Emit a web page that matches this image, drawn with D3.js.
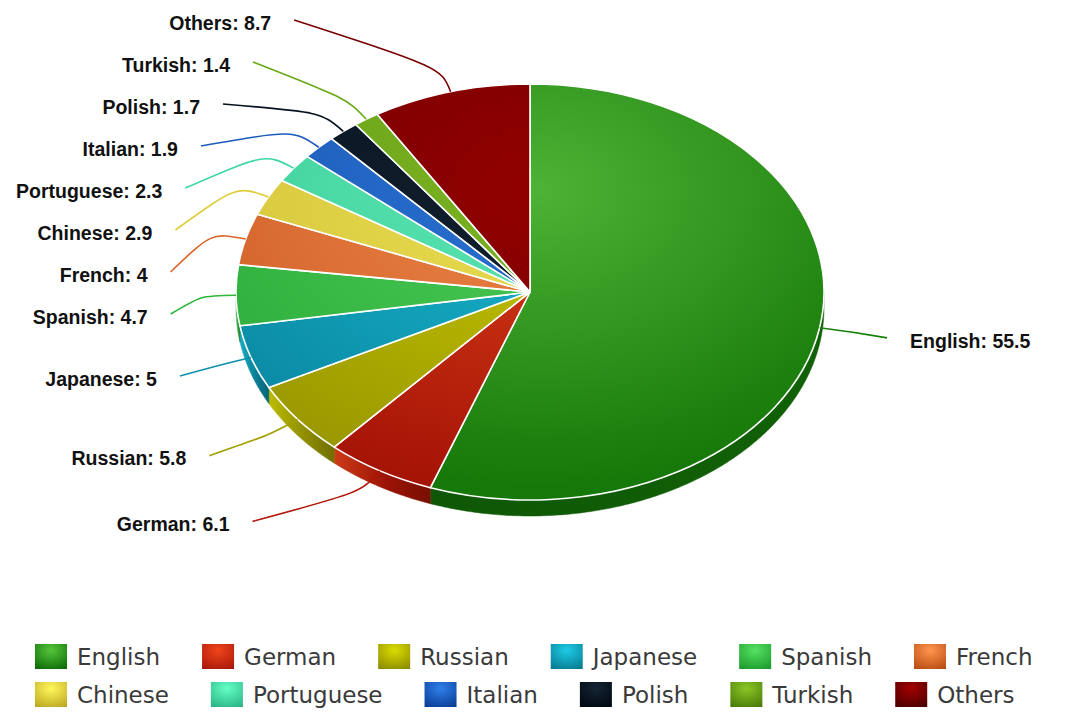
<!DOCTYPE html>
<html>
<head>
<meta charset="utf-8">
<script src="https://cdn.jsdelivr.net/npm/d3@7"></script>
<style>
  html, body { margin: 0; padding: 0; background: #fff; }
  svg { display: block; }
</style>
</head>
<body>
<svg id="chart" width="1070" height="713"></svg>
<script>
// ---------------- data ----------------
const categories = ["English", "German", "Russian", "Japanese", "Spanish", "French",
                    "Chinese", "Portuguese", "Italian", "Polish", "Turkish", "Others"];
const values = [55.5, 6.1, 5.8, 5, 4.7, 4, 2.9, 2.3, 1.9, 1.7, 1.4, 8.7];

// series colours (light = highlight, dark = shade)
const colorsLight = ["#4db235", "#d83e18", "#c6c600", "#1ab6ce", "#4ccb58", "#ec8646",
                     "#eade52", "#5ae6b2", "#2a72d2", "#12202e", "#7cb222", "#920000"];
const colorsDark  = ["#157808", "#a61406", "#9a9800", "#0a88a2", "#2cac3a", "#cf5e28",
                     "#d2c238", "#3ccc98", "#1a56b2", "#06121e", "#64a016", "#720000"];
const legendDark  = ["#0c6a06", "#a81808", "#8a8a00", "#087a90", "#1c9a2c", "#b84c12",
                     "#bca820", "#2ab484", "#0a3c94", "#000810", "#4a7a08", "#4a0000"];

// ---------------- layout ----------------
const W = 1070, H = 713;
const cx = 530, cy = 292, Rx = 294, Ry = 208, depth = 16;
const k = Ry / Rx;

const svg = d3.select("#chart");
const defs = svg.append("defs");

const data = categories.map((c, i) => ({ name: c, value: values[i], i }));
const pie = d3.pie().sort(null).value(d => d.value);
const arcs = pie(data);

const pt = (a, s) => [cx + Rx * s * Math.sin(a), cy - Ry * s * Math.cos(a)];

// gradients for tops (in scaled group space)
const hx = 10, hy = (190 - cy) / k;
arcs.forEach(d => {
  const g = defs.append("radialGradient")
    .attr("id", "top" + d.index)
    .attr("gradientUnits", "userSpaceOnUse")
    .attr("cx", hx).attr("cy", hy).attr("fx", hx).attr("fy", hy)
    .attr("r", 420);
  g.append("stop").attr("offset", 0).attr("stop-color", colorsLight[d.index]);
  g.append("stop").attr("offset", 1).attr("stop-color", colorsDark[d.index]);
});

// ---------------- side walls ----------------
const sideG = svg.append("g");
arcs.forEach(d => {
  const lo = Math.max(d.startAngle, Math.PI / 2);
  const hi = Math.min(d.endAngle, 3 * Math.PI / 2);
  if (hi <= lo) return;
  const n = Math.max(2, Math.ceil((hi - lo) / 0.01));
  const top = d3.range(n + 1).map(j => pt(lo + (hi - lo) * j / n, 1));
  const bottom = top.map(p => [p[0], p[1] + depth]).reverse();
  const pts = top.concat(bottom);
  const xl = pt(hi, 1)[0], xr = pt(lo, 1)[0];
  const base = d3.color(colorsDark[d.index]);
  const gid = "side" + d.index;
  const g = defs.append("linearGradient").attr("id", gid)
    .attr("gradientUnits", "userSpaceOnUse")
    .attr("x1", xl).attr("y1", 0).attr("x2", xr).attr("y2", 0);
  if (d.index === 0) {
    g.append("stop").attr("offset", 0).attr("stop-color", base.darker(0.9));
    g.append("stop").attr("offset", 1).attr("stop-color", base.darker(0.6));
  } else {
    g.append("stop").attr("offset", 0).attr("stop-color", d3.color(colorsLight[d.index]).darker(0.15));
    g.append("stop").attr("offset", 0.55).attr("stop-color", base.darker(0.2));
    g.append("stop").attr("offset", 1).attr("stop-color", base.darker(0.9));
  }
  sideG.append("path")
    .attr("d", "M" + pts.map(p => p.join(",")).join("L") + "Z")
    .attr("fill", `url(#${gid})`)
    .attr("stroke", `url(#${gid})`)
    .attr("stroke-width", 0.5);
});

// ---------------- tops ----------------
const arcGen = d3.arc().innerRadius(0).outerRadius(Rx);
const topG = svg.append("g").attr("transform", `translate(${cx},${cy}) scale(1,${k})`);
topG.selectAll("path").data(arcs).join("path")
  .attr("d", arcGen)
  .attr("fill", d => `url(#top${d.index})`)
  .attr("stroke", "#fff")
  .attr("stroke-width", 1.6)
  .attr("stroke-linejoin", "round")
  .attr("vector-effect", "non-scaling-stroke");

// ---------------- labels ----------------
const labelR = 360, labelRy = 267, rowGap = 42, minY = 20, maxY = 600;
const labels = arcs.map(d => {
  const mid = (d.startAngle + d.endAngle) / 2;
  return { d, mid, side: mid < Math.PI ? "right" : "left", y0: cy - labelRy * Math.cos(mid) };
});

function clusterTop(c) {
  const m = d3.mean(c.members, e => e.y0);
  let t = m - (c.members.length - 1) * rowGap / 2;
  t = Math.max(minY, t);
  t = Math.min(maxY - (c.members.length - 1) * rowGap, t);
  return t;
}
function spread(items) {
  items.sort((a, b) => a.y0 - b.y0);
  const clusters = [];
  items.forEach(it => {
    clusters.push({ members: [it] });
    while (clusters.length > 1) {
      const c2 = clusters[clusters.length - 1], c1 = clusters[clusters.length - 2];
      if (clusterTop(c1) + c1.members.length * rowGap > clusterTop(c2)) {
        clusters.splice(clusters.length - 2, 2, { members: c1.members.concat(c2.members) });
      } else break;
    }
  });
  clusters.forEach(c => {
    const t = clusterTop(c);
    c.members.forEach((e, j) => e.y = t + j * rowGap);
  });
}
spread(labels.filter(l => l.side === "left"));
spread(labels.filter(l => l.side === "right"));

const labG = svg.append("g");
labels.forEach(l => {
  const dy = l.y - cy;
  const dx = Math.sqrt(Math.max(0, labelR * labelR - dy * dy));
  const lx = l.side === "right" ? cx + dx : cx - dx;
  const A = pt(l.mid, 1.0), B = pt(l.mid, 1.12);
  labG.append("path")
    .attr("d", `M${lx},${l.y}C${B[0]},${B[1]} ${B[0]},${B[1]} ${A[0]},${A[1]}`)
    .attr("fill", "none")
    .attr("stroke", d3.color(colorsDark[l.d.index]).brighter(0.15))
    .attr("stroke-width", 1.6);
  labG.append("text")
    .attr("x", l.side === "right" ? lx + 23 : lx - 23)
    .attr("y", l.y)
    .attr("dy", "0.5em")
    .attr("text-anchor", l.side === "right" ? "start" : "end")
    .attr("font-family", "'Liberation Sans', Arial, sans-serif")
    .attr("font-weight", "bold")
    .attr("font-size", 19.5)
    .attr("fill", "#111")
    .text(`${l.d.data.name}: ${l.d.data.value}`);
});

// ---------------- legend ----------------
const perRow = 6, legX = 35, legY = [644, 682], swW = 32, swH = 25, itemGap = 42;
const legG = svg.append("g");
categories.forEach((c, i) => {
  const g = defs.append("radialGradient").attr("id", "leg" + i)
    .attr("cx", "50%").attr("cy", "25%").attr("r", "85%");
  g.append("stop").attr("offset", 0).attr("stop-color", d3.color(colorsLight[i]).brighter(0.3));
  g.append("stop").attr("offset", 1).attr("stop-color", legendDark[i]);
});
let curX = legX;
categories.forEach((c, i) => {
  const row = Math.floor(i / perRow);
  if (i % perRow === 0) curX = legX;
  const y = legY[row];
  legG.append("rect")
    .attr("x", curX).attr("y", y).attr("width", swW).attr("height", swH)
    .attr("fill", `url(#leg${i})`);
  const t = legG.append("text")
    .attr("x", curX + swW + 10).attr("y", y + swH / 2)
    .attr("dy", "0.36em")
    .attr("font-family", "'DejaVu Sans', Verdana, sans-serif")
    .attr("font-size", 23)
    .attr("fill", "#3a3a3a")
    .text(c);
  curX += swW + 10 + t.node().getComputedTextLength() + itemGap;
});
</script>
</body>
</html>
